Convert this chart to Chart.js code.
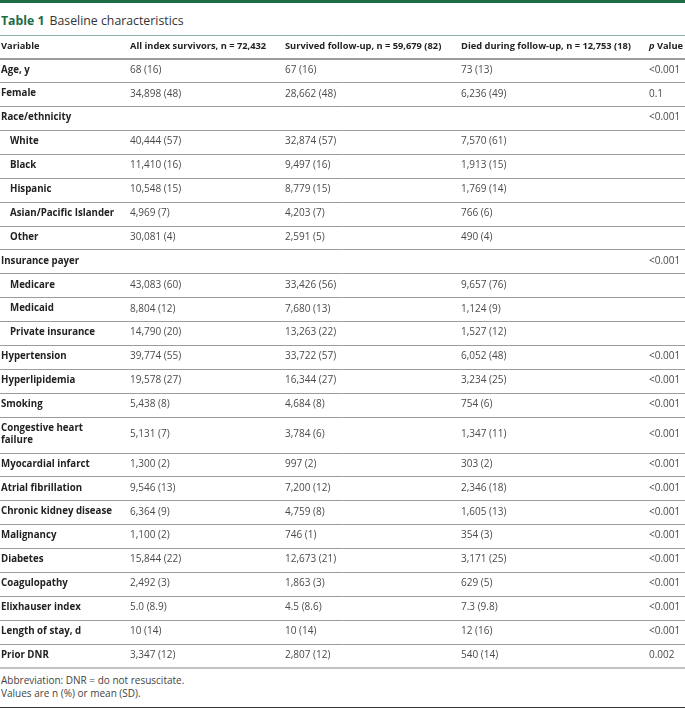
<!DOCTYPE html>
<html>
<head>
<meta charset="utf-8">
<script src="https://cdn.jsdelivr.net/npm/chart.js@4.4.1/dist/chart.umd.min.js"></script>
<style>
  html, body { margin: 0; padding: 0; background: #fff; }
  body { width: 685px; height: 710px; position: relative; overflow: hidden; font-family: 'Open Sans', sans-serif; }
  #topbar { position: absolute; left: 0; top: 0; width: 685px; height: 3px; background: #1d6b47; }
  #title { position: absolute; left: 1px; top: 12px; font-size: 12.3px; line-height: 17px; color: #333; white-space: nowrap; }
  #title b { color: #1d6b47; font-weight: 700; margin-right: 5px; }
  #wrap { position: absolute; left: 0; top: 34px; width: 685px; height: 636px; }
  #notes { position: absolute; left: 1px; top: 674px; font-size: 10px; line-height: 13px; color: #444; }
  #bottomrule { position: absolute; left: 0; top: 707px; width: 685px; height: 1px; background: #333; }
</style>
</head>
<body>
<div id="topbar"></div>
<div id="title"><b>Table 1</b>Baseline characteristics</div>
<div id="wrap"><canvas id="myChart" width="685" height="636"></canvas></div>
<div id="notes">Abbreviation: DNR = do not resuscitate.<br>Values are n (%) or mean (SD).</div>
<div id="bottomrule"></div>
<script>
// 表のデータ(行ごと)
const columnHeaders = ['Variable', 'All index survivors, n = 72,432', 'Survived follow-up, n = 59,679 (82)', 'Died during follow-up, n = 12,753 (18)', 'p Value'];

const variables = ['Age, y', 'Female', 'Race/ethnicity', 'White', 'Black', 'Hispanic', 'Asian/Pacific Islander', 'Other',
  'Insurance payer', 'Medicare', 'Medicaid', 'Private insurance', 'Hypertension', 'Hyperlipidemia', 'Smoking',
  ['Congestive heart', 'failure'], 'Myocardial infarct', 'Atrial fibrillation', 'Chronic kidney disease', 'Malignancy',
  'Diabetes', 'Coagulopathy', 'Elixhauser index', 'Length of stay, d', 'Prior DNR'];

const subItems = ['White', 'Black', 'Hispanic', 'Asian/Pacific Islander', 'Other', 'Medicare', 'Medicaid', 'Private insurance'];

const allSurvivors = ['68 (16)', '34,898 (48)', '', '40,444 (57)', '11,410 (16)', '10,548 (15)', '4,969 (7)', '30,081 (4)',
  '', '43,083 (60)', '8,804 (12)', '14,790 (20)', '39,774 (55)', '19,578 (27)', '5,438 (8)',
  '5,131 (7)', '1,300 (2)', '9,546 (13)', '6,364 (9)', '1,100 (2)',
  '15,844 (22)', '2,492 (3)', '5.0 (8.9)', '10 (14)', '3,347 (12)'];

const survivedFollowUp = ['67 (16)', '28,662 (48)', '', '32,874 (57)', '9,497 (16)', '8,779 (15)', '4,203 (7)', '2,591 (5)',
  '', '33,426 (56)', '7,680 (13)', '13,263 (22)', '33,722 (57)', '16,344 (27)', '4,684 (8)',
  '3,784 (6)', '997 (2)', '7,200 (12)', '4,759 (8)', '746 (1)',
  '12,673 (21)', '1,863 (3)', '4.5 (8.6)', '10 (14)', '2,807 (12)'];

const diedFollowUp = ['73 (13)', '6,236 (49)', '', '7,570 (61)', '1,913 (15)', '1,769 (14)', '766 (6)', '490 (4)',
  '', '9,657 (76)', '1,124 (9)', '1,527 (12)', '6,052 (48)', '3,234 (25)', '754 (6)',
  '1,347 (11)', '303 (2)', '2,346 (18)', '1,605 (13)', '354 (3)',
  '3,171 (25)', '629 (5)', '7.3 (9.8)', '12 (16)', '540 (14)'];

const pValues = ['<0.001', '0.1', '<0.001', '', '', '', '', '',
  '<0.001', '', '', '', '<0.001', '<0.001', '<0.001',
  '<0.001', '<0.001', '<0.001', '<0.001', '<0.001',
  '<0.001', '<0.001', '<0.001', '<0.001', '0.002'];

// 列の左端 (x軸の値 = px)
const colX = [1, 130, 285, 461, 649];
const valueColumns = [allSurvivors, survivedFollowUp, diedFollowUp, pValues];

// 行の高さ(単位)、2行ラベルは1.5
const rowUnits = variables.map(v => Array.isArray(v) ? 1.5 : 1);
const bounds = [0, 1];
rowUnits.forEach(u => bounds.push(bounds[bounds.length - 1] + u));
const totalUnits = bounds[bounds.length - 1];

const FONT = "'Open Sans', sans-serif";

const tableText = {
  id: 'tableText',
  afterDraw(chart) {
    const { ctx, scales: { x, y } } = chart;
    ctx.save();
    ctx.textBaseline = 'middle';
    ctx.textAlign = 'left';

    // ヘッダー
    const hy = y.getPixelForValue(0.5) - 1;
    ctx.fillStyle = '#222';
    ctx.font = 'bold 9.3px ' + FONT;
    columnHeaders.forEach((h, c) => {
      if (c === 4) {
        ctx.font = 'italic bold 9.3px ' + FONT;
        ctx.fillText('p', x.getPixelForValue(colX[c]), hy);
        const pw = ctx.measureText('p ').width;
        ctx.font = 'bold 9.3px ' + FONT;
        ctx.fillText('Value', x.getPixelForValue(colX[c]) + pw, hy);
      } else {
        ctx.fillText(h, x.getPixelForValue(colX[c]), hy);
      }
    });

    // 本体
    variables.forEach((v, i) => {
      const yc = y.getPixelForValue((bounds[i + 1] + bounds[i + 2]) / 2) - 1;
      const indent = subItems.includes(v) ? 9 : 0;
      ctx.fillStyle = '#222';
      ctx.font = 'bold 9.7px ' + FONT;
      if (Array.isArray(v)) {
        v.forEach((line, k) => {
          ctx.fillText(line, x.getPixelForValue(colX[0] + indent), yc + (k - (v.length - 1) / 2) * 11.5);
        });
      } else {
        ctx.fillText(v, x.getPixelForValue(colX[0] + indent), yc);
      }
      ctx.fillStyle = '#4a4a4a';
      ctx.font = '400 10px ' + FONT;
      valueColumns.forEach((col, c) => {
        if (col[i]) ctx.fillText(col[i], x.getPixelForValue(colX[c + 1]), yc);
      });
    });
    ctx.restore();
  }
};

const ctx = document.getElementById('myChart').getContext('2d');

new Chart(ctx, {
  type: 'scatter',
  data: { datasets: [] },
  options: {
    responsive: false,
    animation: false,
    layout: { padding: { top: 1, bottom: 2, left: 0, right: 0 } },
    scales: {
      x: { type: 'linear', min: 0, max: 685, display: false },
      y: {
        type: 'linear',
        min: 0,
        max: totalUnits,
        reverse: true,
        afterBuildTicks: s => { s.ticks = bounds.map(v => ({ value: v })); },
        afterFit: s => { s.width = 0; },
        ticks: { display: false },
        border: { display: false },
        grid: {
          drawTicks: false,
          color: c => c.index === 0 ? '#8fb49f' : (c.index === bounds.length - 1 ? '#c2c2c2' : '#9c9c9c'),
          lineWidth: c => (c.index === 1 || c.index === bounds.length - 1) ? 2 : 1
        }
      }
    },
    plugins: {
      legend: { display: false },
      tooltip: { enabled: false }
    }
  },
  plugins: [tableText]
});
</script>
</body>
</html>
